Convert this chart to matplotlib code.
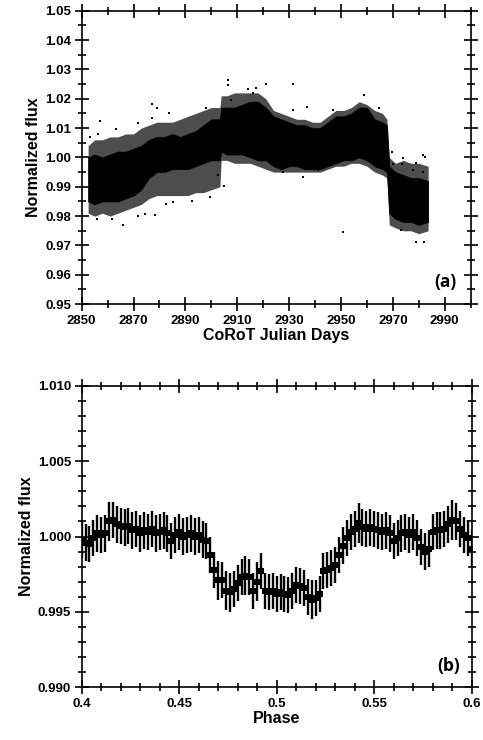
import matplotlib
matplotlib.use("Agg")
import matplotlib.pyplot as plt
import numpy as np
from matplotlib.ticker import MultipleLocator, FormatStrFormatter, FuncFormatter


# ---- panel (a): CoRoT light curve, read as a dense band plus sparse points ----
days = [2852.5, 2855, 2858, 2861, 2864, 2867, 2870, 2873, 2876, 2879,
        2882, 2885, 2888, 2891, 2894, 2897, 2900, 2903.3, 2903.8, 2906,
        2909, 2912, 2915, 2918, 2921, 2924, 2927, 2930, 2933, 2936,
        2939, 2942, 2945, 2948, 2951, 2954, 2957, 2960, 2963, 2966,
        2967.7, 2968.6, 2971, 2974, 2977, 2980, 2983.6]
core_hi = [1.000, 1.001, 1.000, 1.001, 1.002, 1.002, 1.003, 1.004, 1.006, 1.007,
           1.007, 1.008, 1.007, 1.008, 1.009, 1.011, 1.013, 1.013, 1.017, 1.017,
           1.017, 1.018, 1.019, 1.019, 1.017, 1.014, 1.013, 1.012, 1.011, 1.011,
           1.010, 1.010, 1.012, 1.014, 1.014, 1.015, 1.017, 1.017, 1.013, 1.012,
           1.011, 0.997, 0.995, 0.994, 0.993, 0.993, 0.992]
core_lo = [0.985, 0.984, 0.985, 0.985, 0.985, 0.986, 0.987, 0.989, 0.993, 0.995,
           0.995, 0.996, 0.996, 0.996, 0.997, 0.998, 0.999, 0.999, 1.002, 1.001,
           1.001, 1.001, 1.000, 0.999, 0.999, 0.997, 0.996, 0.997, 0.997, 0.996,
           0.996, 0.996, 0.997, 0.998, 0.999, 0.999, 1.000, 0.999, 0.997, 0.996,
           0.995, 0.981, 0.979, 0.978, 0.978, 0.977, 0.978]
fringe_hi = [1.004, 1.006, 1.006, 1.007, 1.007, 1.008, 1.008, 1.010, 1.011, 1.012,
             1.012, 1.012, 1.013, 1.014, 1.015, 1.016, 1.017, 1.017, 1.021, 1.021,
             1.022, 1.022, 1.022, 1.022, 1.020, 1.016, 1.015, 1.014, 1.013, 1.013,
             1.012, 1.012, 1.014, 1.016, 1.016, 1.017, 1.019, 1.018, 1.016, 1.015,
             1.013, 1.000, 0.998, 0.999, 0.998, 0.998, 0.997]
fringe_lo = [0.981, 0.980, 0.981, 0.980, 0.981, 0.982, 0.983, 0.984, 0.986, 0.987,
             0.987, 0.987, 0.987, 0.987, 0.988, 0.988, 0.989, 0.990, 0.999, 0.999,
             0.998, 0.998, 0.998, 0.997, 0.996, 0.995, 0.995, 0.995, 0.995, 0.995,
             0.995, 0.995, 0.996, 0.997, 0.997, 0.998, 0.998, 0.997, 0.995, 0.994,
             0.993, 0.977, 0.976, 0.975, 0.975, 0.974, 0.975]

outlier_days = [2853.2, 2856.3, 2857.1, 2863.4, 2871.8, 2877.0, 2878.9, 2877.0, 2883.8, 2897.9,
                2906.5, 2906.5, 2907.4, 2914.2, 2917.4, 2916.1, 2920.9, 2931.5, 2931.5, 2936.7,
                2958.9, 2947.0, 2964.7, 2973.9, 2979.0, 2981.6, 2866.0, 2871.8, 2878.2, 2874.4,
                2855.8, 2861.6, 2950.8, 2979.1, 2981.9, 2935.4, 2904.8, 2902.6, 2899.4, 2892.4,
                2885.3, 2882.4, 2927.7, 2941.2, 2973.3, 2969.8, 2970.1, 2973.7, 2977.8, 2981.6,
                2982.5]
outlier_flux = [1.0069, 1.0080, 1.0124, 1.0098, 1.0117, 1.0181, 1.0170, 1.0136, 1.0151, 1.0170,
                1.0263, 1.0246, 1.0195, 1.0234, 1.0237, 1.0220, 1.0251, 1.0251, 1.0160, 1.0172,
                1.0214, 1.0160, 1.0170, 0.9999, 0.9980, 1.0010, 0.9771, 0.9801, 0.9805, 0.9808,
                0.9790, 0.9790, 0.9745, 0.9711, 0.9711, 0.9933, 0.9901, 0.9939, 0.9865, 0.9853,
                0.9847, 0.9841, 0.9950, 0.9956, 0.9753, 1.0018, 0.9977, 0.9977, 0.9956, 0.9949,
                1.0003]

# ---- panel (b): phase-folded, binned flux with error bars ----
phase = [0.400, 0.402, 0.404, 0.406, 0.408, 0.410, 0.412, 0.414, 0.416, 0.418,
         0.420, 0.422, 0.424, 0.426, 0.428, 0.430, 0.432, 0.434, 0.436, 0.438,
         0.440, 0.442, 0.444, 0.446, 0.448, 0.450, 0.452, 0.454, 0.456, 0.458,
         0.460, 0.462, 0.464, 0.466, 0.468, 0.470, 0.472, 0.474, 0.476, 0.478,
         0.480, 0.482, 0.484, 0.486, 0.488, 0.490, 0.492, 0.494, 0.496, 0.498,
         0.500, 0.502, 0.504, 0.506, 0.508, 0.510, 0.512, 0.514, 0.516, 0.518,
         0.520, 0.522, 0.524, 0.526, 0.528, 0.530, 0.532, 0.534, 0.536, 0.538,
         0.540, 0.542, 0.544, 0.546, 0.548, 0.550, 0.552, 0.554, 0.556, 0.558,
         0.560, 0.562, 0.564, 0.566, 0.568, 0.570, 0.572, 0.574, 0.576, 0.578,
         0.580, 0.582, 0.584, 0.586, 0.588, 0.590, 0.592, 0.594, 0.596, 0.598,
         0.600]
flux = [0.9998, 0.9996, 0.9995, 0.9999, 1.0002, 1.0001, 1.0002, 1.0010, 1.0011, 1.0008,
        1.0007, 1.0006, 1.0007, 1.0004, 1.0005, 1.0002, 1.0004, 1.0003, 1.0005, 1.0002,
        1.0003, 1.0004, 1.0002, 0.9997, 1.0001, 1.0003, 1.0000, 1.0001, 1.0002, 1.0000,
        1.0001, 0.9998, 0.9997, 0.9988, 0.9978, 0.9971, 0.9971, 0.9964, 0.9963, 0.9965,
        0.9969, 0.9973, 0.9974, 0.9973, 0.9964, 0.9970, 0.9977, 0.9964, 0.9963, 0.9964,
        0.9962, 0.9963, 0.9962, 0.9961, 0.9964, 0.9968, 0.9967, 0.9966, 0.9960, 0.9958,
        0.9959, 0.9962, 0.9977, 0.9978, 0.9979, 0.9981, 0.9988, 0.9994, 0.9999, 1.0003,
        1.0005, 1.0009, 1.0006, 1.0005, 1.0006, 1.0005, 1.0004, 1.0003, 1.0004, 1.0002,
        0.9997, 0.9999, 1.0002, 1.0003, 1.0001, 1.0003, 0.9999, 0.9993, 0.9990, 0.9992,
        1.0003, 1.0004, 1.0004, 1.0005, 1.0008, 1.0011, 1.0010, 1.0005, 1.0001, 0.9999,
        0.9992]
flux_err = [0.0012, 0.0012, 0.0012, 0.0012, 0.0012, 0.0012, 0.0012, 0.0013, 0.0012, 0.0012,
            0.0012, 0.0012, 0.0012, 0.0012, 0.0012, 0.0012, 0.0012, 0.0012, 0.0012, 0.0012,
            0.0012, 0.0012, 0.0012, 0.0012, 0.0012, 0.0012, 0.0012, 0.0012, 0.0012, 0.0012,
            0.0012, 0.0012, 0.0012, 0.0012, 0.0012, 0.0013, 0.0012, 0.0013, 0.0013, 0.0012,
            0.0012, 0.0012, 0.0013, 0.0012, 0.0012, 0.0013, 0.0012, 0.0012, 0.0012, 0.0012,
            0.0012, 0.0012, 0.0012, 0.0012, 0.0012, 0.0012, 0.0012, 0.0012, 0.0012, 0.0013,
            0.0012, 0.0012, 0.0012, 0.0012, 0.0012, 0.0012, 0.0012, 0.0012, 0.0012, 0.0012,
            0.0012, 0.0013, 0.0012, 0.0012, 0.0012, 0.0012, 0.0012, 0.0012, 0.0012, 0.0012,
            0.0012, 0.0012, 0.0012, 0.0012, 0.0012, 0.0012, 0.0012, 0.0012, 0.0012, 0.0012,
            0.0012, 0.0012, 0.0012, 0.0012, 0.0012, 0.0013, 0.0012, 0.0012, 0.0012, 0.0012,
            0.0012]


plt.rcParams.update({
    "font.family": ["Liberation Sans", "DejaVu Sans"],
    "font.weight": "bold",
    "axes.linewidth": 1.2,
})

fig = plt.figure(figsize=(4.83, 7.40), dpi=100)
ax_a = fig.add_axes([0.169, 0.589, 0.8055, 0.3965])
ax_b = fig.add_axes([0.169, 0.0712, 0.8075, 0.4076])

# sparse fringe of the light curve, dense core, and isolated outliers
ax_a.fill_between(days, fringe_lo, fringe_hi, color="0.3", linewidth=0)
ax_a.fill_between(days, core_lo, core_hi, color="black", linewidth=0.5)
ax_a.plot(outlier_days, outlier_flux, "s", color="black", ms=1.8, mew=0)

ax_a.set_xlim(2850, 3000)
ax_a.set_ylim(0.95, 1.05)
ax_a.xaxis.set_major_locator(MultipleLocator(20, offset=10))
ax_a.xaxis.set_minor_locator(MultipleLocator(10))
ax_a.yaxis.set_major_locator(MultipleLocator(0.01))
ax_a.yaxis.set_minor_locator(MultipleLocator(0.005))
ax_a.yaxis.set_major_formatter(FormatStrFormatter("%.2f"))
ax_a.xaxis.set_major_formatter(FormatStrFormatter("%d"))
ax_a.set_xlabel("CoRoT Julian Days", fontsize=11.5, fontweight="bold", labelpad=1)
ax_a.set_ylabel("Normalized flux", fontsize=11.5, fontweight="bold", labelpad=3)
ax_a.text(0.935, 0.075, "(a)", transform=ax_a.transAxes, ha="center", va="center",
          fontsize=12.5, fontweight="bold", family=["Open Sans", "DejaVu Sans"])

ax_b.errorbar(phase, flux, yerr=flux_err, fmt="s", color="black", ms=4.2,
              elinewidth=1.7, capsize=0, mew=0)
ax_b.set_xlim(0.4, 0.6)
ax_b.set_ylim(0.990, 1.010)
ax_b.xaxis.set_major_locator(MultipleLocator(0.05))
ax_b.xaxis.set_minor_locator(MultipleLocator(0.01))
ax_b.yaxis.set_major_locator(MultipleLocator(0.005))
ax_b.yaxis.set_minor_locator(MultipleLocator(0.001))
ax_b.yaxis.set_major_formatter(FormatStrFormatter("%.3f"))
ax_b.xaxis.set_major_formatter(FuncFormatter(lambda v, pos: f"{v:.2f}".rstrip("0")))
ax_b.set_xlabel("Phase", fontsize=11.5, fontweight="bold", labelpad=1)
ax_b.set_ylabel("Normalized flux", fontsize=11.5, fontweight="bold", labelpad=3)
ax_b.text(0.94, 0.07, "(b)", transform=ax_b.transAxes, ha="center", va="center",
          fontsize=12.5, fontweight="bold", family=["Open Sans", "DejaVu Sans"])

for ax in (ax_a, ax_b):
    ax.tick_params(which="both", direction="inout", top=True, right=True,
                   labelsize=9.5, width=1.2, pad=2.5)
    ax.tick_params(which="major", length=10)
    ax.tick_params(which="minor", length=5.5)
    for lbl in ax.get_xticklabels() + ax.get_yticklabels():
        lbl.set_fontweight("bold")

fig.savefig("out.png", dpi=100)
